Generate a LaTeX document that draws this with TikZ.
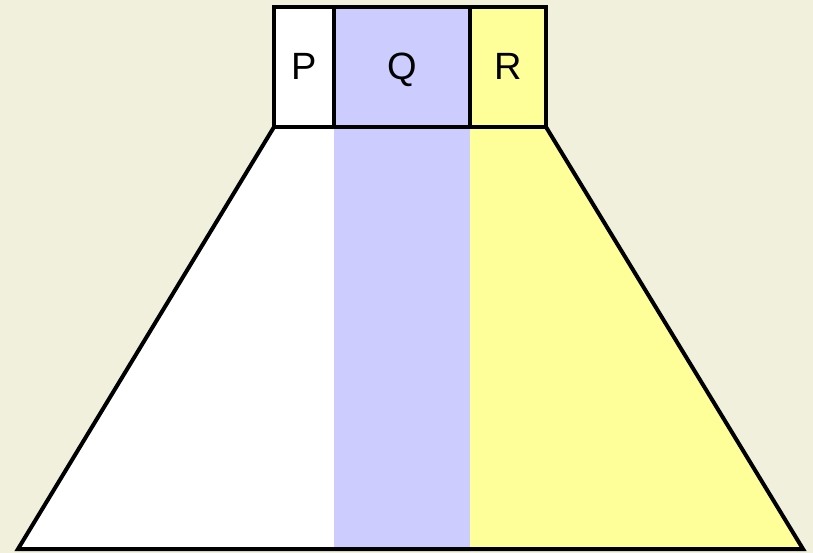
\documentclass[tikz,border=0pt]{standalone}
\usepackage{fontspec}
\setmainfont{Liberation Sans}
\usetikzlibrary{positioning}
\definecolor{bgbeige}{RGB}{240,240,220}
\definecolor{qblue}{RGB}{204,204,255}
\definecolor{ryellow}{RGB}{255,255,153}
\begin{document}
\begin{tikzpicture}[
  x=1pt, y=-1pt,
  cell/.style={draw, line width=3.5pt},
  label/.style={anchor=base, inner sep=0pt, font=\fontsize{38}{44}\selectfont}
]
\fill[bgbeige] (0,0) rectangle (813,553);
\useasboundingbox (0,0) rectangle (813,553);
% corners
\coordinate (tl) at (274,127);
\coordinate (tr) at (546,127);
\coordinate (bl) at (18,549);
\coordinate (br) at (803,549);
% trapezoid fills
\fill[white] (tl) -- (334,127) -- (334,549) -- (bl) -- cycle;
\fill[qblue] (334,127) rectangle (470,549);
\fill[ryellow] (470,127) -- (tr) -- (br) -- (470,549) -- cycle;
\draw[line width=4pt, line join=miter] (tl) -- (bl) -- (br) -- (tr);
% top boxes
\draw[cell, fill=white] (274,7) rectangle (334,127);
\draw[cell, fill=qblue] (334,7) rectangle (470,127);
\draw[cell, fill=ryellow] (470,7) rectangle (546,127);
\node[label] (p) at (304,80) {P};
\node[label] (q) at (402,80) {Q};
\node[label] (r) at (508,80) {R};
\end{tikzpicture}
\end{document}
